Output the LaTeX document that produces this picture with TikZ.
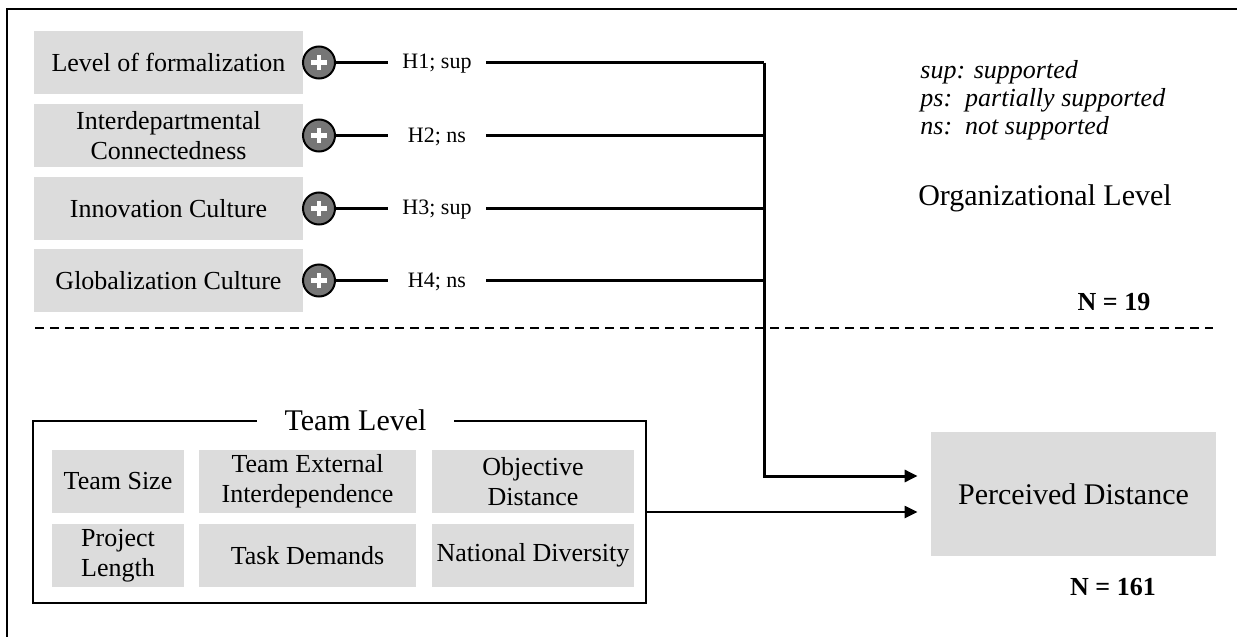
\documentclass[tikz,border=0pt]{standalone}
\usepackage{fontspec}
\setmainfont{Liberation Serif}
\usetikzlibrary{arrows.meta}
\definecolor{boxgray}{RGB}{220,220,220}
\definecolor{plusgray}{RGB}{118,118,118}
\begin{document}
\begin{tikzpicture}[x=0.5pt,y=-0.5pt,
  orgbox/.style={fill=boxgray, minimum width=134.5pt, minimum height=31.5pt, inner sep=0pt, align=center, font=\fontsize{13}{15}\selectfont},
  teambox/.style={fill=boxgray, minimum height=31.5pt, inner sep=0pt, align=center, font=\fontsize{13}{15}\selectfont},
  plusnode/.style={circle, draw=black, line width=1pt, fill=plusgray, minimum size=16pt, inner sep=0pt},
  plussign/.style={draw=white, line width=2.1pt},
  hlabel/.style={minimum width=49pt, inner sep=0pt, font=\fontsize{11}{13}\selectfont},
  link/.style={line width=1.1pt},
  mainline/.style={line width=1.5pt},
  tip/.style={-{Triangle[length=6.5pt,width=6pt]}, shorten >=6.5pt},
  legend/.style={anchor=base west, inner sep=0pt, font=\itshape\fontsize{13}{14}\selectfont},
  bignum/.style={inner sep=0pt, font=\bfseries\fontsize{13}{15}\selectfont}
]
\useasboundingbox (0,0) rectangle (1237,637);

% outer frame (cropped)
\coordinate (fbl) at (7,645);
\coordinate (ftl) at (7,9);
\coordinate (ftr) at (1245,9);
\draw[line width=1.2pt] (fbl) -- (ftl) -- (ftr);

% organizational level factors
\node[orgbox] (f1) at (168.5,62.5) {Level of formalization};
\node[orgbox] (f2) at (168.5,135.5) {Interdepartmental\\Connectedness};
\node[orgbox] (f3) at (168.5,208.5) {Innovation Culture};
\node[orgbox] (f4) at (168.5,280.5) {Globalization Culture};

\foreach \i/\y in {1/62.5,2/135.5,3/208.5,4/280.5}{
  \node[plusnode] (p\i) at (319,\y) {};
  \draw[plussign] ([xshift=-3.8pt]p\i.center) -- ([xshift=3.8pt]p\i.center);
  \draw[plussign] ([yshift=-3.8pt]p\i.center) -- ([yshift=3.8pt]p\i.center);
  \coordinate (v\i) at (764,\y);
}

\node[hlabel] (h1) at (437,63.5) {H1; sup};
\node[hlabel] (h2) at (437,136.5) {H2; ns};
\node[hlabel] (h3) at (437,209.5) {H3; sup};
\node[hlabel] (h4) at (437,281.5) {H4; ns};

\foreach \i in {1,2,3,4}{
  \draw[link] (p\i) -- (p\i -| h\i.west);
  \draw[link] (v\i -| h\i.east) -- (v\i);
}

% legend
\node[legend] (l1) at (920,78) {sup: supported};
\node[legend] (l2) at (920,106) {ps:\ \ partially supported};
\node[legend] (l3) at (920,134) {ns:\ \ not supported};

\node[inner sep=0pt, font=\fontsize{15}{17}\selectfont] (org) at (1045,198) {Organizational Level};
\node[bignum] (n19) at (1114,302) {N = 19};

% separator
\coordinate (dl) at (35,328);
\coordinate (dr) at (1213,328);
\draw[line width=1.1pt, dash pattern=on 4.5pt off 3pt] (dl) -- (dr);

% perceived distance
\node[fill=boxgray, minimum width=142.5pt, minimum height=62pt, inner sep=0pt, font=\fontsize{15}{17}\selectfont] (pd) at (1073.5,494) {Perceived Distance};
\node[bignum] (n161) at (1113,587) {N = 161};

% team level
\node[draw, line width=1.2pt, minimum width=306.5pt, minimum height=91pt, inner sep=0pt] (team) at (339.5,512) {};
\node[fill=white, inner xsep=14pt, inner ysep=1pt, font=\fontsize{15}{17}\selectfont] (tl) at (355.5,420) {Team Level};

\node[teambox, minimum width=66pt] (ts) at (118,481.5) {Team Size};
\node[teambox, minimum width=108.5pt] (te) at (307.5,481.5) {Team External\\Interdependence};
\node[teambox, minimum width=101pt] (od) at (533,481.5) {Objective\\Distance};
\node[teambox, minimum width=66pt] (pl) at (118,555.5) {Project\\Length};
\node[teambox, minimum width=108.5pt] (td) at (307.5,555.5) {Task Demands};
\node[teambox, minimum width=101pt] (nd) at (533,555.5) {National Diversity};

% connectors to perceived distance
\coordinate (turn) at (764,476);
\draw[mainline] (v1) -- (v4);
\draw[mainline, tip] (v4) -- (turn) -- (turn -| pd.west);
\draw[link, tip] (team.east) -- (team.east -| pd.west);
\end{tikzpicture}
\end{document}
